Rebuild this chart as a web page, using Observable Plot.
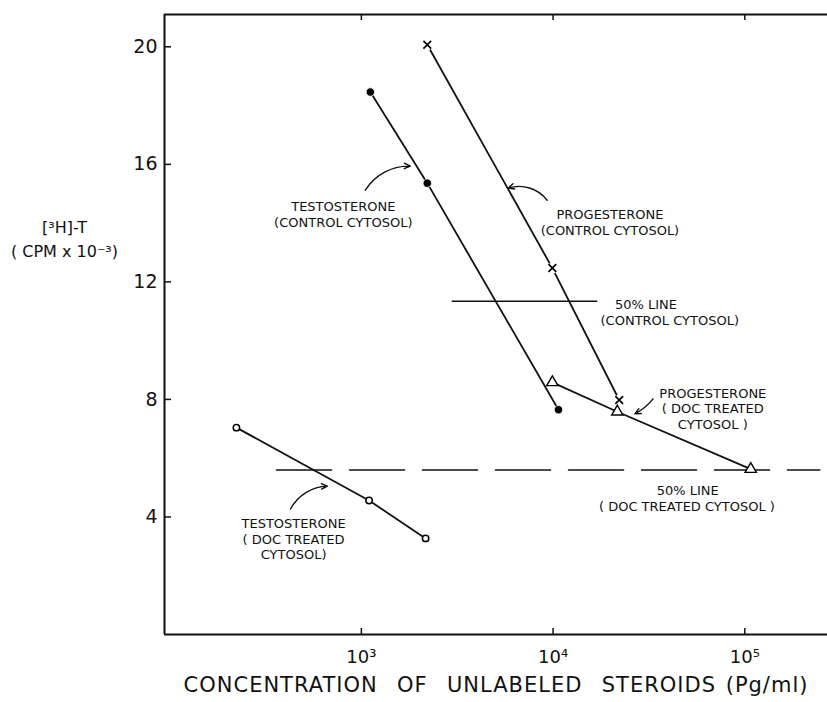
<!DOCTYPE html>
<html><head><meta charset="utf-8">
<script src="https://cdn.jsdelivr.net/npm/d3@7"></script>
<script src="https://cdn.jsdelivr.net/npm/@observablehq/plot@0.6"></script>
<style>body{margin:0;background:#fff}</style>
</head><body><div id="chart"></div>
<script>
// Axis ticks
const xTicks = [1e3, 1e4, 1e5];
const xTickLabels = ["10³", "10⁴", "10⁵"];
const yTicks = [4, 8, 12, 16, 20];
const xDomain = [94, 2.7e5];
const yDomain = [0, 21.1];

// Series (concentration pg/ml, CPM x 10^-3)
const testCtrlX = [1114, 2207, 10670];
const testCtrlY = [18.46, 15.36, 7.65];
const progCtrlX = [2207, 9910, 22130];
const progCtrlY = [20.07, 12.47, 7.98];
const progDocX = [9910, 21630, 107400];
const progDocY = [8.58, 7.58, 5.63];
const testDocX = [223, 1097, 2163];
const testDocY = [7.04, 4.56, 3.27];

// 50% lines
const halfCtrlX = [2980, 16900];
const halfCtrlY = [11.34, 11.34];
const halfDocX = [361, 246000];
const halfDocY = [5.6, 5.6];

// Annotations (data coordinates)
const labelText = ["TESTOSTERONE\n(CONTROL CYTOSOL)", "PROGESTERONE\n(CONTROL CYTOSOL)", "PROGESTERONE\n( DOC TREATED\nCYTOSOL )", "TESTOSTERONE\n( DOC TREATED\nCYTOSOL)", "50% LINE", "(CONTROL CYTOSOL)", "50% LINE", "( DOC TREATED CYTOSOL )"];
const labelX = [805, 19800, 68100, 443, 30500, 40600, 50400, 49900];
const labelY = [14.32, 14.04, 7.70, 3.26, 11.26, 10.72, 4.91, 4.37];

const arrowX1 = [1049, 9310, 33200, 427];
const arrowY1 = [15.12, 14.78, 8.02, 4.27];
const arrowX2 = [1800, 5830, 26700, 665];
const arrowY2 = [15.94, 15.19, 7.51, 5.05];
const arrowBend = [30, -35, 12, 30];

const rows = (xs, ys) => xs.map((x, i) => ({x, y: ys[i]}));
const testCtrl = rows(testCtrlX, testCtrlY);
const progCtrl = rows(progCtrlX, progCtrlY);
const progDoc = rows(progDocX, progDocY);
const testDoc = rows(testDocX, testDocY);
const halfCtrl = rows(halfCtrlX, halfCtrlY);
const halfDoc = rows(halfDocX, halfDocY);
const labels = labelText.map((t, i) => ({t, x: labelX[i], y: labelY[i]}));
const arrowMarks = arrowX1.map((x1, i) =>
  Plot.arrow([{x1, y1: arrowY1[i], x2: arrowX2[i], y2: arrowY2[i]}],
    {x1: "x1", y1: "y1", x2: "x2", y2: "y2", bend: arrowBend[i], headLength: 7, headAngle: 50, strokeWidth: 1.4}));

const font = "DejaVu Sans";
const xTitle = "CONCENTRATION  OF  UNLABELED  STEROIDS (Pg/ml)";
const chart = Plot.plot({
  width: 827, height: 702,
  marginLeft: 164, marginRight: 0, marginTop: 14, marginBottom: 68,
  x: {type: "log", domain: xDomain},
  y: {domain: yDomain},
  style: {fontFamily: font, color: "#111", background: "#fff"},
  marks: [
    Plot.axisX(xTicks, {tickSize: 0, tickPadding: 16, fontSize: 18, label: null, tickFormat: d => xTickLabels[xTicks.indexOf(d)]}),
    Plot.axisY(yTicks, {tickSize: 0, tickPadding: 7, fontSize: 19, label: null}),
    Plot.ruleY([yDomain[0]], {strokeWidth: 2}),
    Plot.ruleY([yDomain[1]], {strokeWidth: 2}),
    Plot.ruleX([xDomain[0]], {strokeWidth: 2}),
    Plot.ruleX(xTicks, {x: d => d, insetTop: 614, strokeWidth: 1.5}),
    Plot.ruleX(xTicks, {x: d => d, insetBottom: 614, strokeWidth: 1.5}),
    Plot.ruleY(yTicks, {y: d => d, insetRight: 656, strokeWidth: 1.5}),
    Plot.line(halfCtrl, {x: "x", y: "y", strokeWidth: 1.6}),
    Plot.line(halfDoc, {x: "x", y: "y", strokeWidth: 1.6, strokeDasharray: "55,18"}),
    Plot.line(testCtrl, {x: "x", y: "y", strokeWidth: 1.8}),
    Plot.line(progCtrl, {x: "x", y: "y", strokeWidth: 1.8}),
    Plot.line(progDoc, {x: "x", y: "y", strokeWidth: 1.8}),
    Plot.line(testDoc, {x: "x", y: "y", strokeWidth: 1.8}),
    Plot.dot(testCtrl, {x: "x", y: "y", r: 4.2, fill: "black", stroke: "white", strokeWidth: 0.8}),
    Plot.dot(progCtrl, {x: "x", y: "y", r: 5.5, fill: "white", stroke: "none", symbol: "circle"}),
    Plot.dot(progCtrl, {x: "x", y: "y", r: 3.6, stroke: "black", strokeWidth: 1.7, symbol: "times"}),
    Plot.dot(progDoc, {x: "x", y: "y", r: 4.2, fill: "white", stroke: "black", strokeWidth: 1.4, symbol: "triangle"}),
    Plot.dot(testDoc, {x: "x", y: "y", r: 3.2, fill: "white", stroke: "black", strokeWidth: 1.5}),
    ...arrowMarks,
    Plot.text(labels, {x: "x", y: "y", text: "t", fontSize: 13, lineHeight: 1.2, fill: "#111"}),
    Plot.text(["[³H]-T\n( CPM x 10⁻³)"], {frameAnchor: "top-left", textAnchor: "middle", lineAnchor: "middle", dx: -100, dy: 223, fontSize: 16, lineHeight: 1.5, fill: "#111"}),
    Plot.text([xTitle], {frameAnchor: "bottom", dy: 57, fontSize: 21, fill: "#111"})
  ]
});
document.getElementById("chart").appendChild(chart);
d3.select(chart).selectAll("text")
  .filter(function() { return this.textContent === xTitle; })
  .attr("letter-spacing", "1px").attr("word-spacing", "2px");
</script>
</body></html>
